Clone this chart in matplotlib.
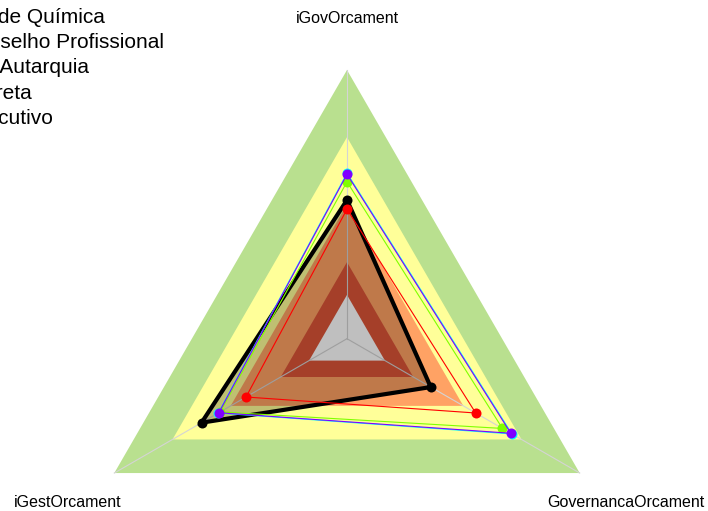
import numpy as np
import matplotlib
matplotlib.use("Agg")
import matplotlib.pyplot as plt

plt.rcParams['font.family'] = ['Liberation Sans', 'DejaVu Sans']

# ---- data ----
variables = ["iGovOrcament", "iGestOrcament", "GovernancaOrcament"]
series_labels = ["CR de Química", "Conselho Profissional", "Nat Autarquia", "Indireta", "Executivo"]
org_values = [0.516, 0.625, 0.360]          # black
conselho_values = [0.482, 0.434, 0.553]     # red
autarquia_values = [0.584, 0.545, 0.668]    # lime
indireta_values = [0.616, 0.553, 0.709]     # cyan
executivo_values = [0.612, 0.551, 0.704]    # purple
band_levels = [1.0, 0.75, 0.5, 0.285, 0.163]

# ---- styles ----
band_colors = ["#B9E08F", "#FFFF99", "#FFA264", "#DD5538", "#FFFFFF"]
series = [org_values, conselho_values, autarquia_values, indireta_values, executivo_values]
series_colors = ["#000000", "#FF0000", "#80FF00", "#00FFFF", "#8000FF"]
series_lw = [3.0, 0.8, 0.8, 0.8, 0.8]

W, H = 708, 511
R = 268.7
cx, cy = 347.0, 338.7

fig = plt.figure(figsize=(W / 100, H / 100), dpi=100)
ax = fig.add_axes([0, 0, 1, 1])
ax.set_xlim(-cx / R, (W - cx) / R)
ax.set_ylim(-(H - cy) / R, cy / R)
ax.axis('off')

angles = np.deg2rad(90 + np.arange(len(variables)) * 360.0 / len(variables))


def xy(vals):
    v = np.asarray(vals, dtype=float)
    return v * np.cos(angles), v * np.sin(angles)


# background bands
for lvl, col in zip(band_levels, band_colors):
    bx, by = xy([lvl] * len(variables))
    ax.fill(bx, by, color=col, lw=0, zorder=1)

# spokes
for a in angles:
    ax.plot([0, np.cos(a)], [0, np.sin(a)], color="#D4D4D4", lw=0.8, zorder=2)

# series
for i, (vals, col, lw) in enumerate(zip(series, series_colors, series_lw)):
    px, py = xy(vals)
    px_c = np.append(px, px[0])
    py_c = np.append(py, py[0])
    if i == 0:
        ax.fill(px, py, color="black", alpha=0.25, lw=0, zorder=3)
    ax.plot(px_c, py_c, color=col, lw=lw, zorder=4 + i, solid_joinstyle='miter')
    ax.plot(px, py, 'o', color=col, ms=7.2, mec='none', zorder=4 + i)

# axis labels
dy_lab = -2.5 / R
for a, name in zip(angles, variables):
    ax.text(1.2 * np.cos(a), 1.2 * np.sin(a) + dy_lab, name, ha='center', va='center',
            fontsize=11.5, color='black')

# legend (partly outside the figure, as in the reference)
x0 = -37.5 / W
for i, lab in enumerate(series_labels):
    y = 1 - (22.7 + i * 25.3) / H
    fig.text(x0, y, lab, fontsize=15, ha='left', va='baseline', color='black')

fig.savefig("out.png", dpi=100)
